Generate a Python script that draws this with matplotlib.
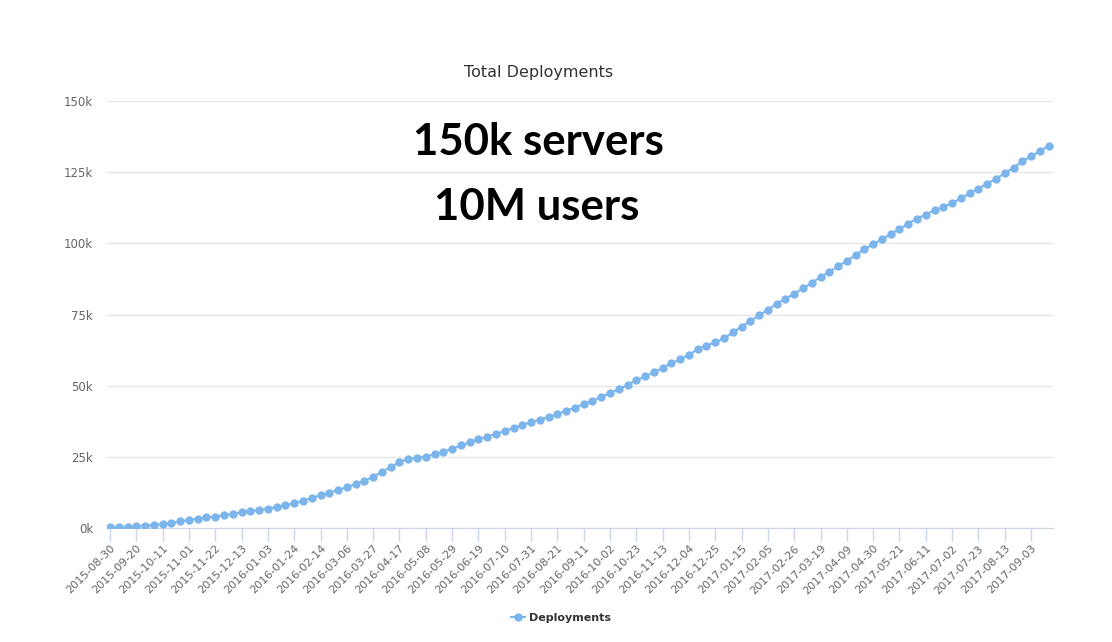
import pandas as pd
import matplotlib
matplotlib.use("Agg")
import matplotlib.pyplot as plt
from matplotlib.ticker import FuncFormatter

# weekly totals
weeks = pd.date_range("2015-08-30", periods=108, freq="7D")
deployments = [
    200, 300, 500, 600, 800, 1050, 1400, 1870, 2340, 2810,
    3280, 3750, 4000, 4450, 4920, 5500, 5970, 6320, 6790, 7380,
    7960, 8780, 9600, 10540, 11480, 12410, 13350, 14290, 15460, 16630,
    17900, 19790, 21300, 23200, 24300, 24600, 25000, 26000, 26800, 27900,
    29000, 30100, 31200, 32100, 33000, 34100, 35100, 36200, 37200, 38000,
    39000, 40000, 41200, 42300, 43600, 44700, 46000, 47400, 48800, 50300,
    51900, 53300, 54700, 56300, 57900, 59300, 60900, 62800, 64100, 65200,
    66600, 68700, 70700, 72700, 74700, 76700, 78800, 80500, 82300, 84200,
    86100, 88200, 90000, 91900, 93800, 95900, 98000, 99700, 101400, 103300,
    105000, 106900, 108700, 110100, 111700, 112700, 114200, 115800, 117600, 119200,
    121000, 122700, 124600, 126600, 128800, 130600, 132400, 134200,
]
tick_every = 3  # label every 3rd week
y_ticks = [0, 25000, 50000, 75000, 100000, 125000, 150000]

W, H = 1112, 642
fig = plt.figure(figsize=(W / 100, H / 100), dpi=100)
ax = fig.add_axes([107 / W, 1 - 528 / H, (1053 - 107) / W, (528 - 101) / H])

x = list(range(len(weeks)))
line, = ax.plot(x, deployments, color="#7cb5ec", lw=1.5, marker="o", ms=6,
                markeredgewidth=0, label="Deployments", zorder=3)

ax.set_xlim(-0.34, 107.5)
ax.set_ylim(0, 150000)
ax.set_yticks(y_ticks)
ax.yaxis.set_major_formatter(FuncFormatter(lambda v, p: f"{int(v / 1000)}k"))
ax.grid(axis="y", color="#e6e6e6", lw=1)
ax.set_axisbelow(True)

tick_pos = x[::tick_every]
ax.set_xticks(tick_pos)
ax.set_xticklabels([weeks[i].strftime("%Y-%m-%d") for i in tick_pos],
                   rotation=45, ha="right", rotation_mode="anchor")

for s in ["top", "right", "left"]:
    ax.spines[s].set_visible(False)
ax.spines["bottom"].set_color("#ccd6eb")
ax.tick_params(axis="y", length=0, pad=10, labelsize=8.5, labelcolor="#666666")
ax.tick_params(axis="x", length=9, width=1, color="#ccd6eb", pad=2,
               labelsize=8, labelcolor="#666666")

fig.text(539 / W, 1 - 72 / H, "Total Deployments", ha="center", va="center",
         fontsize=11.5, color="#333333")

fig.text(538 / W, 1 - 142 / H, "150k servers", ha="center", va="center",
         fontsize=31.5, fontweight="bold", family="Lato", color="black")
fig.text(537 / W, 1 - 207 / H, "10M users", ha="center", va="center",
         fontsize=31.5, fontweight="bold", family="Lato", color="black")

leg = fig.legend(handles=[line], loc="center", bbox_to_anchor=(561 / W, 1 - 618 / H),
                 frameon=False, handlelength=1.3, handletextpad=0.4,
                 prop={"weight": "bold", "size": 8})
for t in leg.get_texts():
    t.set_color("#333333")

fig.savefig("out.png", dpi=100)
